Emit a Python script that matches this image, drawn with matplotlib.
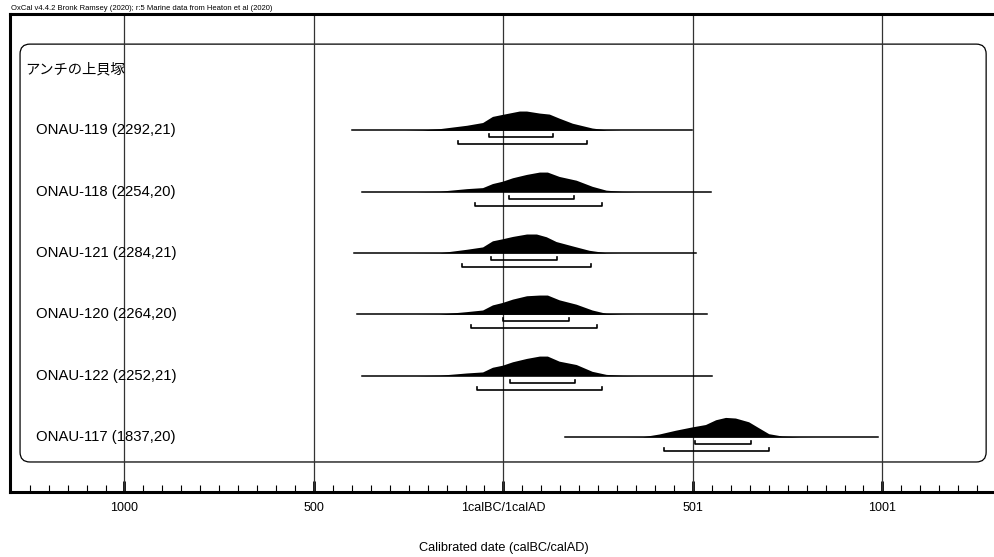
import numpy as np
import matplotlib
matplotlib.use("Agg")
import matplotlib.pyplot as plt
from matplotlib.patches import FancyBboxPatch
import matplotlib.transforms as mtransforms

plt.rcParams['font.family'] = ['Liberation Sans', 'Noto Sans CJK JP', 'DejaVu Sans']

# site and samples (top to bottom)
site_name = "アンチの上貝塚"
labels = ["ONAU-119 (2292,21)", "ONAU-118 (2254,20)", "ONAU-121 (2284,21)",
          "ONAU-120 (2264,20)", "ONAU-122 (2252,21)", "ONAU-117 (1837,20)"]

# calibrated probability curves, year (calBC negative / calAD positive) vs relative probability
years_119 = [-260, -213, -168, -97, -55, -29, -3, 42, 61, 95, 121, 147, 182, 234, 271, 310]
prob_119 = [0, 0.5, 1.7, 5, 7.7, 13.7, 15.7, 19, 19, 17, 16, 12, 7, 2.3, 0.5, 0]
years_118 = [-230, -168, -97, -55, -29, -3, 24, 61, 95, 116, 147, 192, 234, 271, 313, 350]
prob_118 = [0, 0.5, 3, 4, 8, 10.3, 13.7, 17, 19.3, 19.3, 15, 11.3, 5.3, 1.5, 0.3, 0]
years_121 = [-240, -168, -97, -55, -29, -3, 24, 61, 87, 113, 139, 182, 226, 271, 310]
prob_121 = [0, 0.3, 3.7, 6, 12, 14, 16.3, 18.7, 18.7, 16, 11.3, 7, 2.7, 0.3, 0]
years_120 = [-230, -168, -97, -55, -29, -3, 24, 61, 95, 116, 147, 192, 234, 271, 313, 350]
prob_120 = [0, 0.3, 2.7, 4.3, 9.3, 11.7, 15, 18.3, 19, 19, 14.3, 10, 4.3, 1, 0.2, 0]
years_122 = [-230, -168, -97, -55, -29, -3, 24, 61, 95, 116, 147, 192, 234, 271, 313, 350]
prob_122 = [0, 0.5, 2.7, 3.7, 8.3, 10.3, 13.7, 17, 19.3, 19.3, 14.3, 11, 4.3, 1.3, 0.3, 0]
years_117 = [320, 367, 411, 454, 498, 533, 560, 586, 612, 647, 674, 700, 735, 779, 820]
prob_117 = [0, 0.3, 3, 6.7, 10, 12.3, 17, 19.3, 18.7, 15, 9, 3.3, 1, 0.2, 0]

years_all = [years_119, years_118, years_121, years_120, years_122, years_117]
probs_all = [prob_119, prob_118, prob_121, prob_120, prob_122, prob_117]

# extent of the calibration line for each sample
line_start = [-400, -374, -395, -386, -374, 163]
line_end = [497, 547, 507, 538, 551, 987]

# 68.2% and 95.4% ranges
r68_lo = [-37, 14, -32, -1, 16, 505]
r68_hi = [132, 185, 140, 172, 188, 653]
r95_lo = [-121, -74, -109, -85, -71, 423]
r95_hi = [221, 259, 232, 247, 260, 701]

major_ticks = [-1000, -500, 0, 500, 1000]
major_labels = ["1000", "500", "1calBC/1calAD", "501", "1001"]

fig = plt.figure(figsize=(9.95, 5.57), dpi=100)
ax = fig.add_axes([10 / 995, 1 - 492 / 557, 985 / 995, 478 / 557])
ax.set_xlim(-1302, 1297)
ax.set_ylim(6.896, -0.897)

row_px = 61.34
peak_px = 19.3
scale = 0.32 / peak_px

# rounded frame around the site group
box = FancyBboxPatch((0.0102, 0.0628), 0.9808, 0.8742,
                     boxstyle="round,pad=0,rounding_size=0.01",
                     mutation_aspect=985 / 478,
                     transform=ax.transAxes, facecolor="none",
                     edgecolor="black", lw=0.9, zorder=1)
ax.add_patch(box)

for t in major_ticks:
    ax.axvline(t, color="#333333", lw=0.9, zorder=2)

trans = mtransforms.blended_transform_factory(ax.transAxes, ax.transData)
ax.text(0.0152, 0, site_name, transform=trans, fontsize=10.3, va="center",
        ha="left", family=['Noto Sans CJK JP'])

for i, name in enumerate(labels):
    row = i + 1
    ax.text(0.0264, row, name, transform=trans, fontsize=10.7, va="center", ha="left")
    ax.plot([line_start[i], line_end[i]], [row, row], color="black", lw=1.1, zorder=3)
    yrs = np.array(years_all[i])
    pr = np.array(probs_all[i]) * scale
    ax.fill_between(yrs, row, row - pr, color="black", lw=0, zorder=4)
    tick = 3 / row_px
    y68 = row + 7 / row_px
    y95 = row + 14 / row_px
    ax.plot([r68_lo[i], r68_lo[i], r68_hi[i], r68_hi[i]],
            [y68 - tick, y68, y68, y68 - tick], color="black", lw=1.2, zorder=4)
    ax.plot([r95_lo[i], r95_lo[i], r95_hi[i], r95_hi[i]],
            [y95 - tick, y95, y95, y95 - tick], color="black", lw=1.2, zorder=4)

ax.set_yticks([])
ax.set_xticks(major_ticks)
ax.set_xticklabels(major_labels, fontsize=9)
ax.set_xticks(np.arange(-1250, 1300, 50), minor=True)
ax.tick_params(axis="x", which="major", direction="in", length=8, width=2, pad=7)
ax.tick_params(axis="x", which="minor", direction="in", length=5, width=0.8)

for side in ["left", "bottom", "top"]:
    ax.spines[side].set_linewidth(2.2)
ax.spines["right"].set_visible(False)

fig.text(504 / 995, 1 - 548 / 557, "Calibrated date (calBC/calAD)",
         fontsize=9.2, ha="center", va="center")
fig.text(11 / 995, 1 - 8 / 557,
         "OxCal v4.4.2 Bronk Ramsey (2020); r:5 Marine data from Heaton et al (2020)",
         fontsize=5.5, ha="left", va="center")

fig.savefig("out.png", dpi=100)
